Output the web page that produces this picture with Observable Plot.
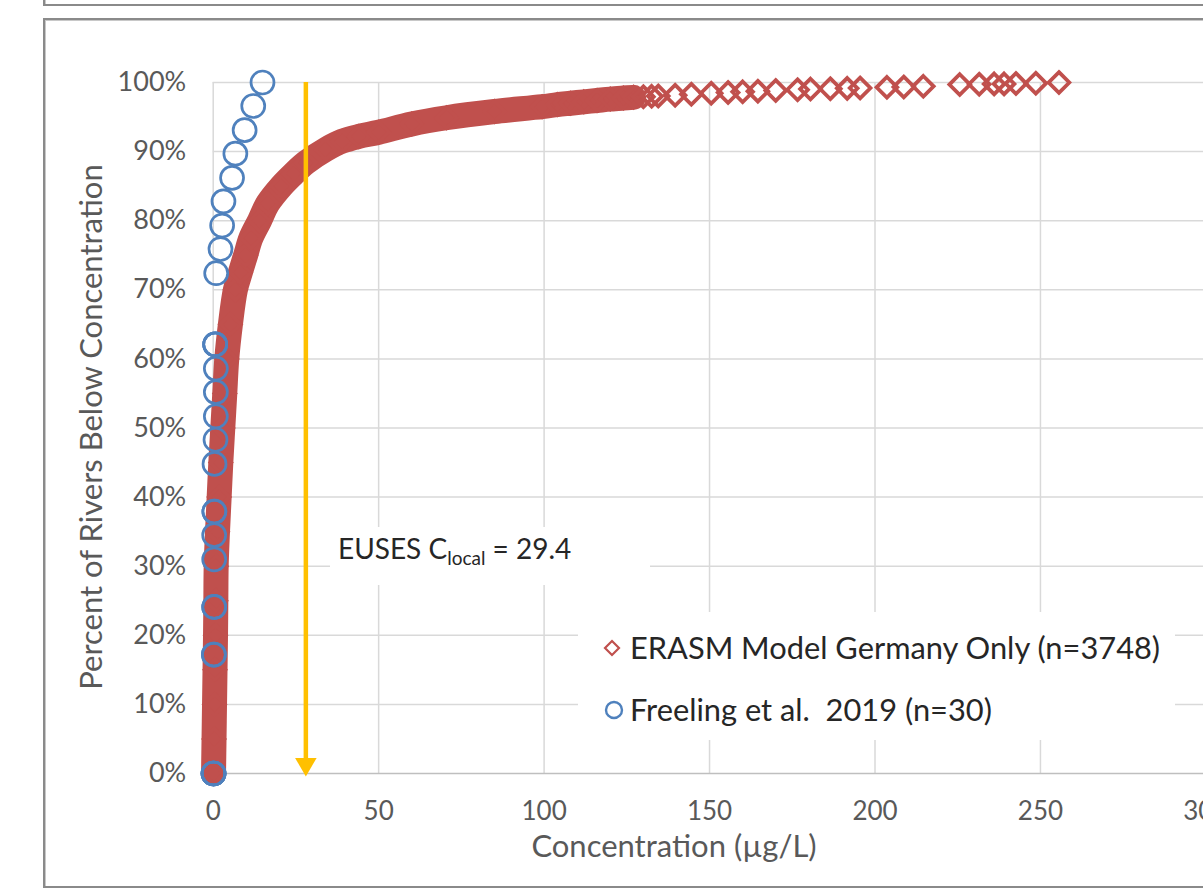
<!DOCTYPE html>
<html>
<head>
<meta charset="utf-8">
<script src="https://cdn.jsdelivr.net/npm/d3@7"></script>
<script src="https://cdn.jsdelivr.net/npm/@observablehq/plot@0.6"></script>
<style>
  html, body { margin: 0; padding: 0; background: #fff; overflow: hidden; }
  #wrap { position: relative; width: 1203px; height: 891px; overflow: hidden; font-family: Lato, "Open Sans", sans-serif; }
  #chart { position: absolute; left: 0; top: 0; }
  .frame { position: absolute; border: 2px solid #8a8a8a; box-shadow: inset 1px 1px 0 #c8c8c8; }
  .ov { position: absolute; background: #fff; }
  .txt { position: absolute; white-space: pre; }
</style>
</head>
<body>
<div id="wrap">
  <div class="frame" style="left:43px; top:-20px; width:1200px; height:22px;"></div>
  <div class="frame" style="left:43px; top:18px; width:1200px; height:866px;"></div>
  <div id="chart"></div>
</div>
<script>
// ---------- data ----------
const erasmConc = [0.1,0.25,0.4,0.55,0.7,0.8,0.9,1.3,1.8,2.3,2.9,3.5,4.1,5.2,6.7,8.2,9.8,11.4,14,16.5,20.6,24.3,28,34,39,44,50,60,70.5,85,
  99.4,104,108,112,116,120,124,127,130,132.5,134.5,139.6,144.5,150.5,155.6,160,164.6,170,176.6,180.5,186.5,191.6,195.5,203.6,208.7,214.6,
  225.6,231.5,236,239,242.6,248.6,255.6];
const erasmPct = [0,5,10,15,20,25,30,35,40,45,50,55,60,65,70,72.5,75,77.5,80,82.5,85,86.8,88.4,90.3,91.5,92.2,92.8,94,94.9,95.8,
  96.5,96.8,97.0,97.2,97.4,97.6,97.75,97.85,97.95,98.0,98.05,98.15,98.3,98.45,98.55,98.65,98.75,98.85,98.95,99.05,99.1,99.15,99.2,99.3,99.35,99.45,
  99.7,99.75,99.8,99.8,99.85,99.9,100];
const freelingConc = [0.1,0.1,0.1,0.1,0.1,0.2,0.2,0.3,0.3,0.3,0.3,0.35,0.35,0.4,0.7,0.8,0.8,0.8,0.6,0.6,0.6,0.9,2.2,2.7,3.1,5.7,6.7,9.5,12.1,14.9];
const freelingPct  = [0,0,0,0,0,17.2,17.2,24.1,24.1,31.0,34.5,37.9,37.9,44.8,48.3,51.7,55.2,58.6,62.1,62.1,62.1,72.4,75.9,79.3,82.8,86.2,89.7,93.1,96.6,100];
const xTicks = [0,50,100,150,200,250,300];
const yTicks = [0,10,20,30,40,50,60,70,80,90,100];
const clocalConc = [28];
const seriesNames = ["ERASM Model Germany Only (n=3748)", "Freeling et al.  2019 (n=30)"];
const xTitle = "Concentration (µg/L)";
const yTitle = "Percent of Rivers Below Concentration";

// ---------- build ----------
const erasm = erasmConc.map((c, i) => ({conc: c, pct: erasmPct[i]}));
const freeling = freelingConc.map((c, i) => ({conc: c, pct: freelingPct[i]}));
const RED = "#C0504D", BLUE = "#4F81BD", GOLD = "#FFC000", GRID = "#d9d9d9";

const downTriangle = {
  draw(ctx, size) {
    const y = Math.sqrt(size / (Math.sqrt(3) * 3));
    ctx.moveTo(0, 2 * y);
    ctx.lineTo(-Math.sqrt(3) * y, -y);
    ctx.lineTo(Math.sqrt(3) * y, -y);
    ctx.closePath();
  }
};

const chart = Plot.plot({
  width: 1203,
  height: 891,
  marginLeft: 212.7,
  marginRight: 0,
  marginTop: 82,
  marginBottom: 118,
  x: {domain: [0, 300], range: [212.7, 1205.4]},
  y: {domain: [0, 100], range: [773, 82]},
  style: {fontFamily: "Lato, sans-serif", fontSize: "25px", color: "#595959", background: "transparent", overflow: "hidden"},
  marks: [
    Plot.gridX(xTicks, {stroke: GRID, strokeOpacity: 1, strokeWidth: 1.5}),
    Plot.gridY(yTicks.filter(d => d > 0), {stroke: GRID, strokeOpacity: 1, strokeWidth: 1.5}),
    Plot.ruleY([0], {stroke: "#bfbfbf", strokeWidth: 1.5}),
    Plot.axisX(xTicks, {tickSize: 0, tickPadding: 28, label: null, fill: "#595959", fontSize: 26}),
    Plot.axisY(yTicks, {tickSize: 0, tickPadding: 27, tickFormat: d => d + "%", label: null, fill: "#595959", fontSize: 27}),
    Plot.line(erasm.filter(d => d.conc <= 128), {x: "conc", y: "pct", stroke: RED, strokeWidth: 25, curve: "catmull-rom", strokeLinejoin: "round"}),
    Plot.dot(erasm, {x: "conc", y: "pct", symbol: "diamond2", r: 9.3, stroke: RED, strokeWidth: 3.8, fill: "none"}),
    Plot.ruleX(clocalConc, {y1: 100, y2: 2, stroke: GOLD, strokeWidth: 4.5}),
    Plot.dot(clocalConc, {x: d => d, y: 0, symbol: downTriangle, r: 8, fill: GOLD, stroke: "none", dy: -9.4}),
    Plot.dot(freeling, {x: "conc", y: "pct", symbol: "circle", r: 11.5, stroke: BLUE, strokeWidth: 2.7, fill: "none"})
  ]
});
document.getElementById("chart").appendChild(chart);

// ---------- overlays: annotation, legend, axis titles ----------
const wrap = document.getElementById("wrap");
function add(html) { const d = document.createElement("div"); d.innerHTML = html; wrap.appendChild(d.firstElementChild); }

add(`<div class="ov" style="left:330px; top:527px; width:320px; height:58px;"></div>`);
add(`<div class="txt" style="left:338px; top:557px; transform:translateY(-60%); font-size:28px; color:#262626; line-height:34px;">EUSES C<sub style="font-size:19px; vertical-align:-6px;">local</sub> = 29.4</div>`);

add(`<div class="ov" style="left:578px; top:612px; width:597px; height:128px;"></div>`);
add(`<svg style="position:absolute; left:603px; top:639px;" width="18" height="18"><path d="M9,2 L16,9 L9,16 L2,9 Z" fill="none" stroke="${RED}" stroke-width="2.2"/></svg>`);
add(`<div class="txt" style="left:630px; top:648px; transform:translateY(-50%); font-size:30.8px; color:#262626; line-height:36px;">${seriesNames[0]}</div>`);
add(`<svg style="position:absolute; left:604px; top:700px;" width="20" height="20"><circle cx="10" cy="10" r="8" fill="none" stroke="${BLUE}" stroke-width="2.4"/></svg>`);
add(`<div class="txt" style="left:630px; top:710px; transform:translateY(-50%); font-size:30.8px; color:#262626; line-height:36px;">${seriesNames[1]}</div>`);

add(`<div class="txt" style="left:674px; top:845px; transform:translate(-50%,-50%); font-size:31px; color:#595959;">${xTitle}</div>`);
add(`<div class="txt" style="left:90px; top:427px; transform:translate(-50%,-50%) rotate(-90deg); font-size:31px; color:#595959;">${yTitle}</div>`);
</script>
</body>
</html>
